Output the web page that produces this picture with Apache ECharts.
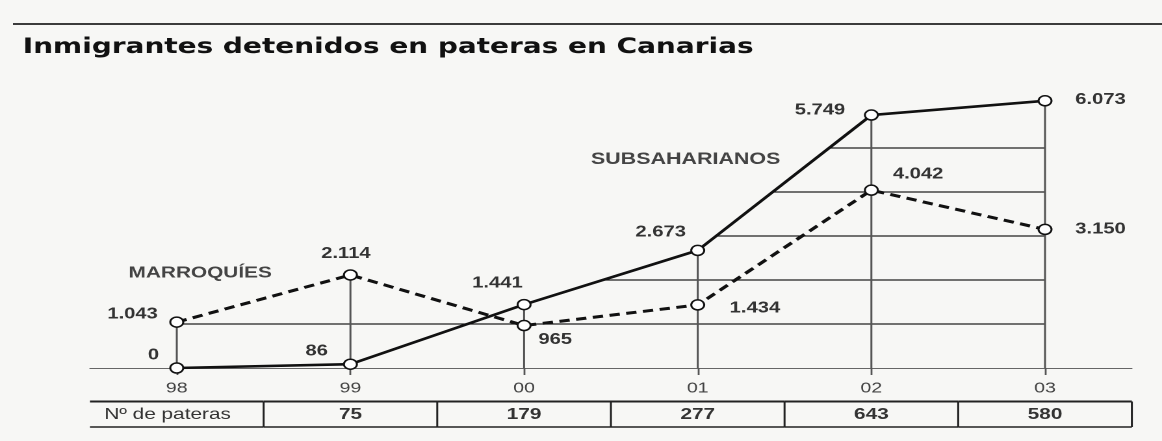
<!DOCTYPE html>
<html><head><meta charset="utf-8">
<script src="https://cdn.jsdelivr.net/npm/echarts@6/dist/echarts.min.js"></script>
<style>
html,body{margin:0;padding:0;background:#f7f7f5}
#wrap{width:1162px;height:441px;overflow:hidden;background:#f7f7f5}
#c{width:894px;height:441px;transform:scaleX(1.29978);transform-origin:0 0}
</style>
</head><body><div id="wrap"><div id="c"></div></div>
<script>
const years = ['98', '99', '00', '01', '02', '03'];
const subsaharianos = [0, 86, 1441, 2673, 5749, 6073];
const marroquies = [1043, 2114, 965, 1434, 4042, 3150];
const pateras = [null, 75, 179, 277, 643, 580];
const tableHeader = 'Nº de pateras';
const gridLevels = [1000, 2000, 3000, 4000, 5000];
const titleText = 'Inmigrantes detenidos en pateras en Canarias';
const nameSub = 'SUBSAHARIANOS';
const nameMar = 'MARROQUÍES';

const fmt = v => String(v).replace(/\B(?=(\d{3})+(?!\d))/g, '.');

// label offsets (style only)
const subOffsets = [[-18,-13],[-26,-13],[-20.5,-21.5],[-28.5,-18],[-39.5,-5],[42.7,-1]];
const marOffsets = [[-34,-8],[-3.5,-21.5],[24,14],[44,3.5],[36,-16],[42.7,0]];

const FONT = "'Liberation Sans', Arial, sans-serif";
const labelStyle = {show: true, position: 'inside', fontSize: 15.5, fontWeight: 'bold', color: '#333', fontFamily: FONT,
  formatter: p => fmt(p.value)};

const chart = echarts.init(document.getElementById('c'), null, {renderer: 'canvas', devicePixelRatio: 2});
const n = years.length;
const env = (i, t) => Math.max(
  subsaharianos[i] + (subsaharianos[i+1] - subsaharianos[i]) * t,
  marroquies[i] + (marroquies[i+1] - marroquies[i]) * t);

chart.setOption({
  animation: false,
  backgroundColor: '#f7f7f5',
  grid: [
    {left: 69.2, right: 23.2, top: 60, bottom: 73},
    {left: 69.2, right: 23.2, top: 401.5, height: 25.5}
  ],
  xAxis: [
    {type: 'category', data: years, boundaryGap: true, gridIndex: 0,
     axisLine: {lineStyle: {color: '#666', width: 1}},
     axisTick: {show: true, alignWithLabel: true, length: 7, lineStyle: {color: '#555', width: 1.4}},
     axisLabel: {margin: 13, fontSize: 15, color: '#444', fontFamily: FONT}},
    {type: 'category', data: years, boundaryGap: true, gridIndex: 1, show: false}
  ],
  yAxis: [
    {type: 'value', min: 0, max: 7000, show: false, splitLine: {show: false}, gridIndex: 0},
    {type: 'value', min: 0, max: 1, show: false, splitLine: {show: false}, gridIndex: 1}
  ],
  graphic: [
    {type: 'line', shape: {x1: 10, y1: 24, x2: 894, y2: 24}, style: {stroke: '#222', lineWidth: 1.8}},
    {type: 'text', x: 17.5, y: 47.5, style: {text: titleText, fontSize: 21.5, fontWeight: 'bold',
      fontFamily: "'DejaVu Sans', sans-serif", fill: '#111', textVerticalAlign: 'middle'}},
    {type: 'text', x: 154, y: 273, style: {text: nameMar, fontSize: 16, fontWeight: 'bold', fontFamily: FONT,
      fill: '#444', textAlign: 'center', textVerticalAlign: 'middle'}},
    {type: 'text', x: 527.5, y: 159.5, style: {text: nameSub, fontSize: 16.5, fontWeight: 'bold', fontFamily: FONT,
      fill: '#444', textAlign: 'center', textVerticalAlign: 'middle'}}
  ],
  series: [
    {type: 'custom', name: 'grid', z: 1, silent: true,
     data: gridLevels.map(v => [0, v]),
     renderItem: (params, api) => {
       const v = api.value(1);
       let si = 0, st = 0, found = false;
       for (let i = n - 2; i >= 0 && !found; i--) {
         for (let k = 400; k >= 0; k--) {
           const t = k / 400;
           if (env(i, t) < v) { si = i; st = t; found = true; break; }
         }
       }
       const a = api.coord([si, v]), b = api.coord([si + 1, v]);
       const x0 = a[0] + (b[0] - a[0]) * st;
       const e = api.coord([n - 1, v]);
       return {type: 'line', shape: {x1: x0, y1: a[1], x2: e[0], y2: e[1]}, style: {stroke: '#222', lineWidth: 1.2}};
     }},
    {type: 'custom', name: 'drops', z: 1, silent: true,
     data: years.map((y, i) => [i, Math.max(subsaharianos[i], marroquies[i])]),
     renderItem: (params, api) => {
       const p1 = api.coord([api.value(0), api.value(1)]);
       const p0 = api.coord([api.value(0), 0]);
       return {type: 'line', shape: {x1: p0[0], y1: p0[1], x2: p1[0], y2: p1[1]}, style: {stroke: '#555', lineWidth: 1.5}};
     }},
    {type: 'line', name: 'Marroquíes', z: 3,
     data: marroquies.map((v, i) => ({value: v, label: {offset: marOffsets[i]}})),
     symbol: 'circle', symbolSize: 10,
     itemStyle: {color: '#fff', borderColor: '#111', borderWidth: 1.5},
     lineStyle: {color: '#111', width: 3, type: [8, 5]},
     label: labelStyle, emphasis: {disabled: true}},
    {type: 'line', name: 'Subsaharianos', z: 4,
     data: subsaharianos.map((v, i) => ({value: v, label: {offset: subOffsets[i]}})),
     symbol: 'circle', symbolSize: 10,
     itemStyle: {color: '#fff', borderColor: '#111', borderWidth: 1.5},
     lineStyle: {color: '#111', width: 2.6},
     label: labelStyle, emphasis: {disabled: true}},
    {type: 'custom', name: 'table', xAxisIndex: 1, yAxisIndex: 1, silent: true,
     data: years.map((y, i) => [i, 0.5]),
     renderItem: (params, api) => {
       const i = api.value(0);
       const c = api.coord([i, 0.5]);
       const w = api.size([1, 0])[0];
       const top = api.coord([i, 1])[1], bot = api.coord([i, 0])[1];
       const l = c[0] - w / 2, r = c[0] + w / 2;
       const txt = i === 0 ? tableHeader : String(pateras[i]);
       return {type: 'group', children: [
         {type: 'line', shape: {x1: l, y1: top, x2: r, y2: top}, style: {stroke: '#222', lineWidth: 2}},
         {type: 'line', shape: {x1: l, y1: bot, x2: r, y2: bot}, style: {stroke: '#222', lineWidth: 1.6}},
         {type: 'line', shape: {x1: r, y1: top, x2: r, y2: bot}, style: {stroke: '#222', lineWidth: 1.5}},
         {type: 'text', x: i === 0 ? l + 11 : c[0], y: c[1] + 0.5,
          style: {text: txt, fontSize: 16, fontWeight: i === 0 ? 'normal' : 'bold', fontFamily: FONT, fill: '#333',
            textAlign: i === 0 ? 'left' : 'center', textVerticalAlign: 'middle'}}
       ]};
     }}
  ]
});
</script></body></html>
